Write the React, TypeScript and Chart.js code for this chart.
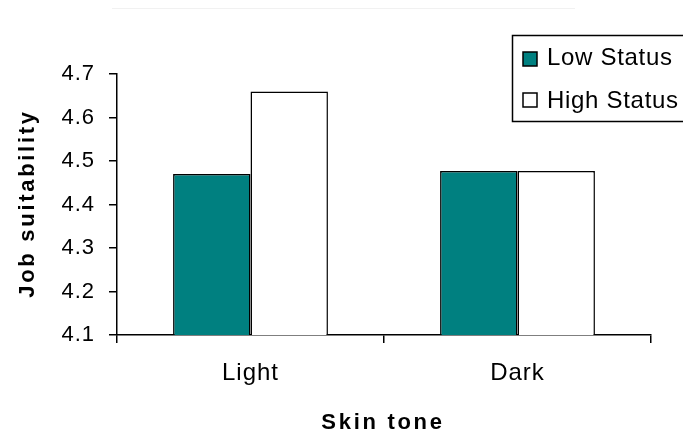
import { useEffect, useRef } from "react";
import { Chart, registerables } from "chart.js";

Chart.register(...registerables);

// ---- data ----
const categories = ["Light", "Dark"];
const seriesLabels = ["Low Status", "High Status"];
const lowStatus = [4.47, 4.477];
const highStatus = [4.66, 4.477];
const seriesColors = ["#008080", "#ffffff"];
const yMin = 4.1;
const yMax = 4.7;
const yStep = 0.1;
const xTitle = "Skin tone";
const yTitle = "Job suitability";

const FONT = "'Liberation Sans', Arial, sans-serif";

const decor = {
  id: "decor",
  beforeLayout(chart: any) {
    chart.ctx.letterSpacing = "1px";
  },
  beforeDraw(chart: any) {
    const ctx = chart.ctx;
    ctx.save();
    ctx.fillStyle = "#ffffff";
    ctx.fillRect(0, 0, chart.width, chart.height);
    ctx.restore();
    ctx.letterSpacing = "1px";
  },
  afterDraw(chart: any) {
    const ctx = chart.ctx;
    const a = chart.chartArea;
    ctx.save();
    // faint top line
    ctx.strokeStyle = "#f1f1f1";
    ctx.lineWidth = 1;
    ctx.beginPath();
    ctx.moveTo(112, 8.5);
    ctx.lineTo(575, 8.5);
    ctx.stroke();

    // axis titles
    ctx.fillStyle = "#000";
    ctx.font = `bold 22px ${FONT}`;
    ctx.letterSpacing = "2.7px";
    ctx.textAlign = "center";
    ctx.textBaseline = "alphabetic";
    ctx.fillText(xTitle, (a.left + a.right) / 2 - 1, 429);
    ctx.save();
    ctx.translate(34, (a.top + a.bottom) / 2 - 1);
    ctx.rotate(-Math.PI / 2);
    ctx.fillText(yTitle, 0, 0);
    ctx.restore();

    // legend
    ctx.strokeStyle = "#000";
    ctx.lineWidth = 1.5;
    ctx.strokeRect(512.5, 35.5, 200, 86);
    ctx.font = `24px ${FONT}`;
    ctx.letterSpacing = "0.7px";
    ctx.textAlign = "left";
    chart.data.datasets.forEach((ds: any, i: number) => {
      const sy = 52 + i * 41;
      ctx.fillStyle = ds.backgroundColor;
      ctx.fillRect(523, sy, 14, 14);
      ctx.lineWidth = 1.5;
      ctx.strokeRect(523, sy, 14, 14);
      ctx.fillStyle = "#000";
      ctx.fillText(ds.label, 547, 64.5 + i * 43);
    });
    ctx.restore();
  },
};

export default function App() {
  const ref = useRef<HTMLCanvasElement | null>(null);
  useEffect(() => {
    if (!ref.current) return;
    const chart = new Chart(ref.current, {
      type: "bar",
      data: {
        labels: categories,
        datasets: [
          {
            label: seriesLabels[0],
            data: lowStatus,
            backgroundColor: seriesColors[0],
            borderColor: "#000",
            borderWidth: 1.5,
            borderSkipped: false,
          },
          {
            label: seriesLabels[1],
            data: highStatus,
            backgroundColor: seriesColors[1],
            borderColor: "#000",
            borderWidth: 1.5,
            borderSkipped: false,
          },
        ],
      },
      options: {
        animation: false,
        responsive: true,
        maintainAspectRatio: false,
        events: [],
        layout: { padding: { top: 74, right: 32, left: 0, bottom: 0 } },
        datasets: { bar: { categoryPercentage: 0.58, barPercentage: 1.0 } },
        plugins: { legend: { display: false }, tooltip: { enabled: false }, title: { display: false } },
        scales: {
          x: {
            grid: { offset: true, drawOnChartArea: false, drawTicks: true, tickLength: 8, color: "#000", lineWidth: 1.5 },
            border: { display: true, color: "#000", width: 1.5 },
            ticks: { font: { family: FONT, size: 24 }, color: "#000", padding: 16 },
            afterFit: (s: any) => {
              s.height = 103;
            },
          },
          y: {
            min: yMin,
            max: yMax,
            grid: { drawOnChartArea: false, drawTicks: true, tickLength: 8, color: "#000", lineWidth: 1.5 },
            border: { display: true, color: "#000", width: 1.5 },
            ticks: {
              stepSize: yStep,
              font: { family: FONT, size: 22 },
              color: "#000",
              padding: 14,
              callback: (v: any) => Number(v).toFixed(1),
            },
            afterFit: (s: any) => {
              s.width = 117;
            },
          },
        },
      },
      plugins: [decor],
    });
    return () => chart.destroy();
  }, []);
  return (
    <div style={{ position: "absolute", left: 0, top: 0, width: 683, height: 438, background: "#fff" }}>
      <canvas ref={ref} />
    </div>
  );
}
